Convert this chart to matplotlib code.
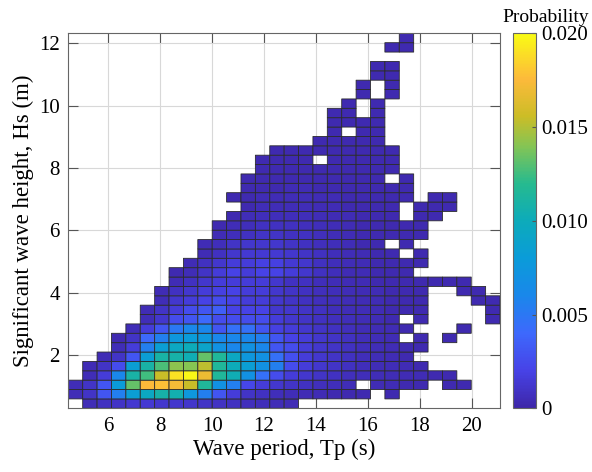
import numpy as np
import matplotlib
matplotlib.use("Agg")
import matplotlib.pyplot as plt
from matplotlib.colors import LinearSegmentedColormap

# bin edges of the joint Tp-Hs histogram
tp_edges = np.linspace(4.46, 21.09, 31)   # 30 wave period bins (s)
hs_edges = np.linspace(0.29, 12.32, 41)   # 40 wave height bins (m)

# probability per cell in units of 1e-4, top row = highest Hs bin, 0 = no data
prob_rows = [
    [0,0,0,0,0,0,0,0,0,0, 0,0,0,0,0,0,0,0,0,0, 0,0,0,3,0,0,0,0,0,0],
    [0,0,0,0,0,0,0,0,0,0, 0,0,0,0,0,0,0,0,0,0, 0,0,3,3,0,0,0,0,0,0],
    [0,0,0,0,0,0,0,0,0,0, 0,0,0,0,0,0,0,0,0,0, 0,0,0,0,0,0,0,0,0,0],
    [0,0,0,0,0,0,0,0,0,0, 0,0,0,0,0,0,0,0,0,0, 0,3,3,0,0,0,0,0,0,0],
    [0,0,0,0,0,0,0,0,0,0, 0,0,0,0,0,0,0,0,0,0, 0,3,3,0,0,0,0,0,0,0],
    [0,0,0,0,0,0,0,0,0,0, 0,0,0,0,0,0,0,0,0,0, 3,0,3,0,0,0,0,0,0,0],
    [0,0,0,0,0,0,0,0,0,0, 0,0,0,0,0,0,0,0,0,0, 3,0,3,0,0,0,0,0,0,0],
    [0,0,0,0,0,0,0,0,0,0, 0,0,0,0,0,0,0,0,0,3, 0,3,0,0,0,0,0,0,0,0],
    [0,0,0,0,0,0,0,0,0,0, 0,0,0,0,0,0,0,0,3,3, 0,3,0,0,0,0,0,0,0,0],
    [0,0,0,0,0,0,0,0,0,0, 0,0,0,0,0,0,0,0,3,3, 3,3,0,0,0,0,0,0,0,0],
    [0,0,0,0,0,0,0,0,0,0, 0,0,0,0,0,0,0,0,3,0, 3,3,0,0,0,0,0,0,0,0],
    [0,0,0,0,0,0,0,0,0,0, 0,0,0,0,0,0,0,3,3,3, 3,3,0,0,0,0,0,0,0,0],
    [0,0,0,0,0,0,0,0,0,0, 0,0,0,0,3,3,3,3,3,3, 3,3,3,0,0,0,0,0,0,0],
    [0,0,0,0,0,0,0,0,0,0, 0,0,0,3,3,3,3,0,3,3, 3,3,3,0,0,0,0,0,0,0],
    [0,0,0,0,0,0,0,0,0,0, 0,0,0,3,3,3,3,3,3,3, 3,3,3,0,0,0,0,0,0,0],
    [0,0,0,0,0,0,0,0,0,0, 0,0,3,3,3,3,3,3,3,3, 3,3,0,3,0,0,0,0,0,0],
    [0,0,0,0,0,0,0,0,0,0, 0,0,3,3,3,4,4,3,3,3, 3,3,3,3,0,0,0,0,0,0],
    [0,0,0,0,0,0,0,0,0,0, 0,3,3,4,4,5,5,4,4,3, 3,3,3,3,0,3,3,0,0,0],
    [0,0,0,0,0,0,0,0,0,0, 0,0,3,5,5,5,5,4,4,3, 3,3,3,0,3,3,3,0,0,0],
    [0,0,0,0,0,0,0,0,0,0, 0,3,5,6,6,6,6,5,4,4, 3,3,3,0,3,3,0,0,0,0],
    [0,0,0,0,0,0,0,0,0,0, 3,5,6,8,8,8,7,6,5,4, 3,3,3,3,3,0,0,0,0,0],
    [0,0,0,0,0,0,0,0,0,0, 4,6,8,10,10,8,8,7,5,4, 3,3,3,3,3,0,0,0,0,0],
    [0,0,0,0,0,0,0,0,0,4, 6,10,12,12,12,10,8,7,6,5, 3,3,0,3,0,0,0,0,0,0],
    [0,0,0,0,0,0,0,0,0,4, 8,12,14,14,14,12,10,8,6,5, 4,3,3,0,3,0,0,0,0,0],
    [0,0,0,0,0,0,0,0,4,8, 12,16,16,18,18,14,12,8,6,5, 4,3,3,3,3,0,0,0,0,0],
    [0,0,0,0,0,0,0,3,5,10, 16,20,16,20,20,16,12,8,6,4, 4,3,3,3,0,0,0,0,0,0],
    [0,0,0,0,0,0,0,4,8,12, 16,16,16,16,12,8,8,6,5,4, 4,3,3,3,3,3,3,3,0,0],
    [0,0,0,0,0,0,4,8,12,16, 18,20,16,16,12,10,8,7,6,5, 4,4,3,3,3,0,0,3,3,0],
    [0,0,0,0,0,0,5,12,16,20, 25,20,16,16,12,10,8,7,6,5, 4,4,3,3,3,0,0,0,3,3],
    [0,0,0,0,0,4,10,16,25,30, 35,20,20,20,12,12,10,8,6,5, 5,4,3,3,3,0,0,0,0,3],
    [0,0,0,0,0,5,12,25,30,40, 25,25,25,25,16,12,10,8,7,6, 5,4,3,0,3,0,0,0,0,3],
    [0,0,0,0,5,16,30,50,60,60, 30,45,45,30,18,16,12,10,8,7, 5,4,4,3,0,0,0,3,0,0],
    [0,0,0,3,10,40,55,75,80,75, 60,60,60,55,30,20,16,12,10,8, 6,5,4,0,3,0,3,0,0,0],
    [0,0,0,5,16,55,83,95,100,90, 70,60,70,60,30,25,16,12,10,8, 6,5,4,3,3,0,0,0,0,0],
    [0,0,4,10,30,83,110,108,103,133, 115,95,75,70,45,27,16,12,10,8, 6,5,4,3,0,0,0,0,0,0],
    [0,4,10,25,83,110,128,142,140,153, 115,100,83,70,55,25,16,12,10,8, 6,5,5,4,3,0,0,0,0,0],
    [0,5,16,60,110,125,155,190,198,168, 115,103,70,45,25,16,12,10,8,7, 6,5,5,4,4,3,3,0,0,0],
    [5,10,30,80,133,175,178,172,155,115, 70,55,22,16,12,10,8,7,6,5, 0,4,4,3,3,0,3,3,0,0],
    [5,10,30,55,83,95,108,105,75,55, 30,16,10,8,6,5,4,4,3,3, 3,0,3,0,0,0,0,0,0,0],
    [0,5,8,10,13,14,12,12,11,10, 9,8,7,6,5,4,0,0,0,0, 0,0,0,0,0,0,0,0,0,0],
]

cbar_ticks = [0, 0.005, 0.010, 0.015, 0.020]
cbar_labels = ["0", "0.005", "0.010", "0.015", "0.020"]

# parula-like colour map
parula = LinearSegmentedColormap.from_list("parula", [
    (0.00, (0.2422, 0.1504, 0.6603)),
    (0.10, (0.2790, 0.2610, 0.9050)),
    (0.20, (0.2400, 0.4100, 0.9900)),
    (0.30, (0.1000, 0.5300, 0.9200)),
    (0.40, (0.0400, 0.6100, 0.8500)),
    (0.50, (0.0500, 0.6700, 0.7300)),
    (0.60, (0.1500, 0.7300, 0.5600)),
    (0.70, (0.5200, 0.7700, 0.3300)),
    (0.78, (0.8000, 0.7400, 0.1500)),
    (0.88, (0.9900, 0.7300, 0.2300)),
    (1.00, (0.9769, 0.9839, 0.0805)),
])

prob = np.array(prob_rows[::-1], dtype=float) * 1e-4
prob = np.ma.masked_where(prob == 0, prob)

plt.rcParams["font.family"] = ["Liberation Serif", "DejaVu Serif"]

fig = plt.figure(figsize=(5.92, 4.72), dpi=100)
ax = fig.add_axes([0.1154, 0.135, 0.7292, 0.7944])

mesh = ax.pcolor(tp_edges, hs_edges, prob, cmap=parula, vmin=0, vmax=0.02,
                 edgecolors="#2b2b2b", linewidth=0.6)

ax.set_xlim(tp_edges[0], tp_edges[-1])
ax.set_ylim(hs_edges[0], hs_edges[-1])
ax.set_xticks(np.arange(6, 21, 2))
ax.set_yticks(np.arange(2, 13, 2))
ax.grid(True, color="#d8d8d8", linewidth=0.8)
ax.set_axisbelow(True)
ax.tick_params(direction="in", top=True, right=True, length=7, width=0.8,
               color="#555555", labelsize=15, pad=6)
for s in ax.spines.values():
    s.set_color("#666666")
    s.set_linewidth(0.8)

ax.set_xlabel("Wave period, Tp (s)", fontsize=16.5, labelpad=2)
ax.set_ylabel("Significant wave height, Hs (m)", fontsize=16.5, labelpad=4)

cax = fig.add_axes([0.866, 0.135, 0.039, 0.7944])
cb = fig.colorbar(mesh, cax=cax, ticks=cbar_ticks)
cb.ax.set_yticklabels(cbar_labels)
cb.ax.tick_params(direction="in", length=3, width=0.8, color="#555555",
                  labelsize=15, pad=4)
cb.outline.set_edgecolor("#666666")
cb.outline.set_linewidth(0.8)
fig.text(0.921, 0.963, "Probability", ha="center", va="center", fontsize=14)

fig.savefig("out.png", dpi=100)
